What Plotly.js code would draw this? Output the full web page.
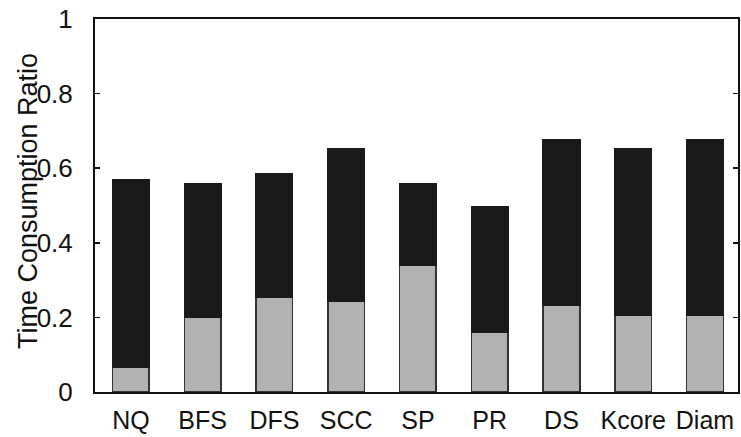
<!DOCTYPE html>
<html>
<head>
<meta charset="utf-8">
<script src="https://cdn.plot.ly/plotly-3.0.1.min.js"></script>
<style>html,body{margin:0;padding:0;background:#fff;}#chart{width:741px;height:437px;}</style>
</head>
<body>
<div id="chart"></div>
<script>
var categories = ["NQ", "BFS", "DFS", "SCC", "SP", "PR", "DS", "Kcore", "Diam"];
var totalRatio = [0.568, 0.558, 0.584, 0.653, 0.558, 0.497, 0.677, 0.651, 0.676];
var grayPart = [0.066, 0.200, 0.254, 0.244, 0.339, 0.159, 0.233, 0.206, 0.206];
var blackPart = totalRatio.map(function (t, i) { return +(t - grayPart[i]).toFixed(3); });
var yTickVals = [0, 0.2, 0.4, 0.6, 0.8, 1];
var yTickText = ["0", "0.2", "0.4", "0.6", "0.8", "1"];
var yTitle = "Time Consumption Ratio";

var xIdx = categories.map(function (c, i) { return i; });
var font = "Liberation Sans, Arial, Helvetica, sans-serif";

var traces = [
  {
    type: "bar", x: xIdx, y: grayPart, width: 0.51,
    marker: { color: "#b2b2b2", line: { color: "#333333", width: 1.5 } },
    hoverinfo: "skip", showlegend: false
  },
  {
    type: "bar", x: xIdx, y: blackPart, width: 0.51,
    marker: { color: "#1a1a1a", line: { color: "#1a1a1a", width: 1.5 } },
    hoverinfo: "skip", showlegend: false
  }
];

var layout = {
  width: 741, height: 437,
  margin: { l: 95, r: 3, t: 19, b: 45 },
  paper_bgcolor: "#fff", plot_bgcolor: "#fff",
  barmode: "stack",
  showlegend: false,
  font: { family: font, color: "#111", size: 25 },
  xaxis: {
    range: [-0.5, 8.46],
    tickvals: xIdx, ticktext: categories,
    ticks: "", showgrid: false, zeroline: false,
    showline: true, linecolor: "#111", linewidth: 2, mirror: true,
    tickfont: { family: font, size: 25, color: "#111" },
    ticklabelstandoff: 5
  },
  xaxis2: {
    overlaying: "x", side: "top", range: [-0.5, 8.46],
    tickvals: xIdx, ticks: "inside", ticklen: 5, tickwidth: 1.5, tickcolor: "#111",
    showticklabels: false, showgrid: false, zeroline: false, showline: false
  },
  yaxis: {
    range: [0, 1],
    tickvals: yTickVals, ticktext: yTickText,
    ticks: "inside", ticklen: 5, tickwidth: 1.5, tickcolor: "#111",
    showgrid: false, zeroline: false,
    showline: true, linecolor: "#111", linewidth: 2, mirror: "ticks",
    tickfont: { family: font, size: 26, color: "#111" },
    ticklabelstandoff: 15,
    automargin: false
  },
  annotations: [{
    text: yTitle, xref: "paper", yref: "paper", x: 0, y: 0.512,
    xanchor: "center", yanchor: "middle", xshift: -67, textangle: -90,
    showarrow: false, font: { family: font, size: 27, color: "#111" }
  }]
};

Plotly.newPlot("chart", traces, layout, { staticPlot: true, displayModeBar: false });
</script>
</body>
</html>
